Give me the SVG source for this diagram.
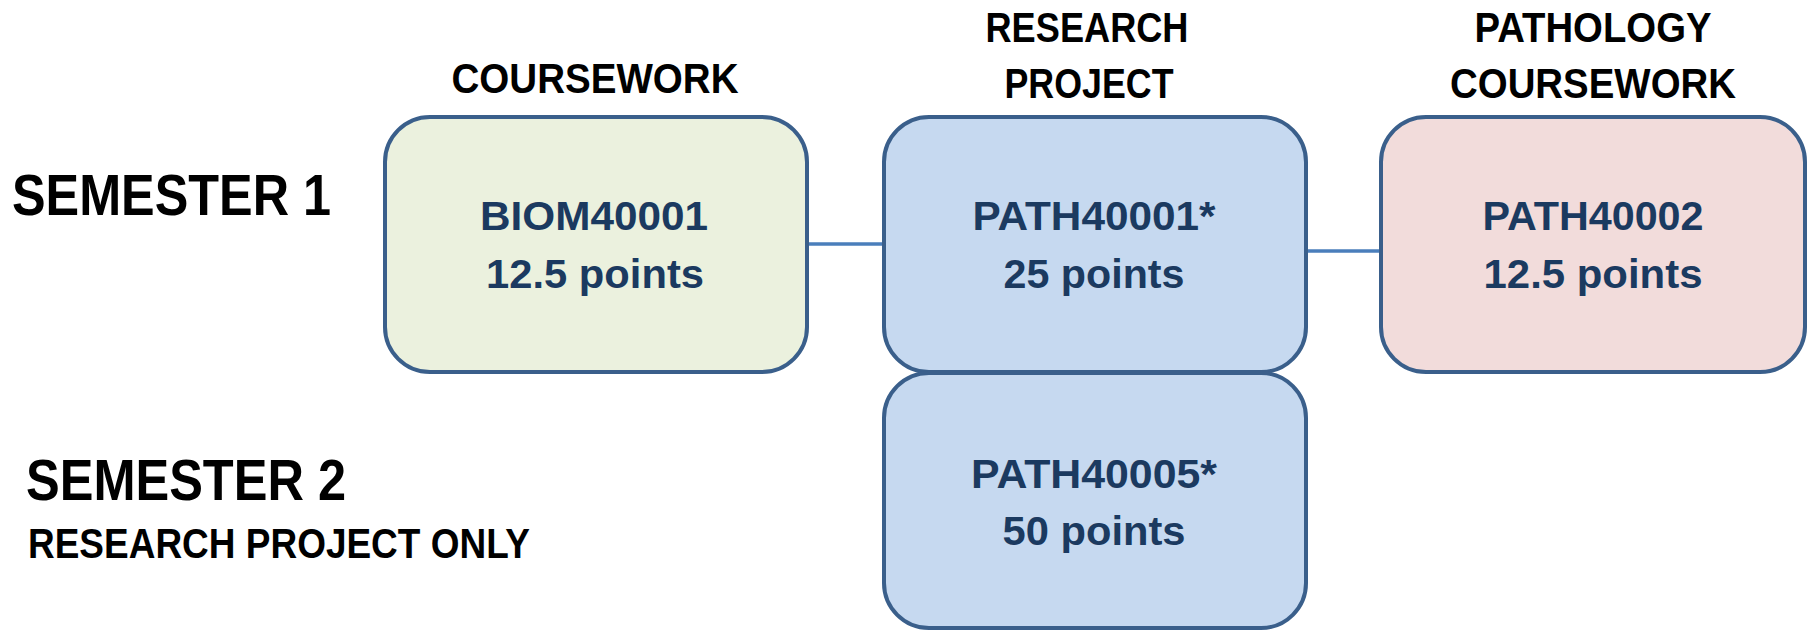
<svg xmlns="http://www.w3.org/2000/svg" width="1814" height="631" viewBox="0 0 1814 631">
<style>
.box{stroke:#3a5f8b;stroke-width:4}
.green{fill:#ebf1de}
.blue{fill:#c6d9f0}
.pink{fill:#f2dcdb}
.hdr{font-family:"Liberation Sans",Arial,sans-serif;font-weight:bold;font-size:43px;fill:#000;text-anchor:middle}
.sem{font-family:"Liberation Sans",Arial,sans-serif;font-weight:bold;font-size:58px;fill:#000}
.sub{font-family:"Liberation Sans",Arial,sans-serif;font-weight:bold;font-size:42px;fill:#000}
.lbl{font-family:"Liberation Sans",Arial,sans-serif;font-weight:bold;font-size:41px;fill:#1b3a60;text-anchor:middle}
.conn{stroke:#4a7ebb;stroke-width:3.5;fill:none}
</style>
<rect width="1814" height="631" fill="#ffffff"/>
<g id="labels">
<text class="hdr" x="595" y="93" textLength="287" lengthAdjust="spacingAndGlyphs">COURSEWORK</text>
<text class="hdr" x="1087" y="42" textLength="203" lengthAdjust="spacingAndGlyphs">RESEARCH</text>
<text class="hdr" x="1089" y="98" textLength="169" lengthAdjust="spacingAndGlyphs">PROJECT</text>
<text class="hdr" x="1593" y="42" textLength="237" lengthAdjust="spacingAndGlyphs">PATHOLOGY</text>
<text class="hdr" x="1593" y="98" textLength="286" lengthAdjust="spacingAndGlyphs">COURSEWORK</text>
<text class="sem" x="12" y="215" textLength="319" lengthAdjust="spacingAndGlyphs">SEMESTER 1</text>
<text class="sem" x="26" y="500" textLength="320" lengthAdjust="spacingAndGlyphs">SEMESTER 2</text>
<text class="sub" x="28" y="558" textLength="502" lengthAdjust="spacingAndGlyphs">RESEARCH PROJECT ONLY</text>
</g>
<g id="connectors">
<line class="conn" x1="807" y1="244" x2="884" y2="244"/>
<line class="conn" x1="1306" y1="251" x2="1381" y2="251"/>
</g>
<g id="biom40001">
<rect class="box green" x="385" y="117" width="422" height="255" rx="45"/>
<text class="lbl" x="594" y="230" textLength="228" lengthAdjust="spacingAndGlyphs">BIOM40001</text>
<text class="lbl" x="595" y="288" textLength="218" lengthAdjust="spacingAndGlyphs">12.5 points</text>
</g>
<g id="path40001">
<rect class="box blue" x="884" y="117" width="422" height="255" rx="45"/>
<text class="lbl" x="1094" y="230" textLength="243" lengthAdjust="spacingAndGlyphs">PATH40001*</text>
<text class="lbl" x="1094" y="288" textLength="181" lengthAdjust="spacingAndGlyphs">25 points</text>
</g>
<g id="path40002">
<rect class="box pink" x="1381" y="117" width="424" height="255" rx="45"/>
<text class="lbl" x="1593" y="230" textLength="221" lengthAdjust="spacingAndGlyphs">PATH40002</text>
<text class="lbl" x="1593" y="288" textLength="219" lengthAdjust="spacingAndGlyphs">12.5 points</text>
</g>
<g id="path40005">
<rect class="box blue" x="884" y="373" width="422" height="255" rx="45"/>
<text class="lbl" x="1094" y="488" textLength="246" lengthAdjust="spacingAndGlyphs">PATH40005*</text>
<text class="lbl" x="1094" y="545" textLength="183" lengthAdjust="spacingAndGlyphs">50 points</text>
</g>
</svg>
